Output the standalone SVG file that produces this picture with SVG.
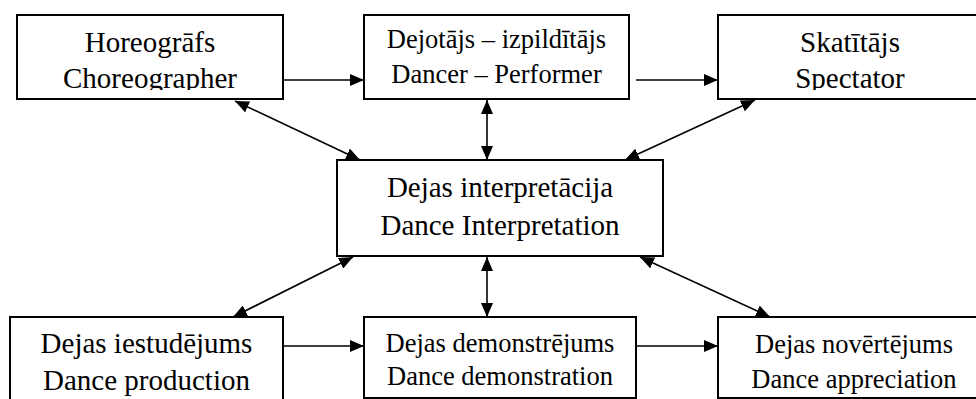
<svg xmlns="http://www.w3.org/2000/svg" width="976" height="399" viewBox="0 0 976 399">
<style>
.box{fill:#fff;stroke:#000;stroke-width:2}
.t{font-family:'Liberation Serif','DejaVu Serif',serif;text-anchor:middle;fill:#000}
.big{font-size:29px}
.small{font-size:26.5px}
.c{stroke:#000;stroke-width:1.6;fill:none}
</style>
<defs>
<marker id="ah" viewBox="0 0 14 12" refX="14" refY="6" markerWidth="14" markerHeight="12" markerUnits="userSpaceOnUse" orient="auto-start-reverse">
<path d="M0,0 L14,6 L0,12 z" fill="#000"/>
</marker>
<clipPath id="clipTop"><rect x="0" y="0" width="976" height="90"/></clipPath>
</defs>
<rect width="976" height="399" fill="#fff"/>
<g id="connectors">
<line class="c" x1="283" y1="80" x2="364" y2="80" marker-end="url(#ah)"/>
<line class="c" x1="636" y1="80" x2="718" y2="80" marker-end="url(#ah)"/>
<line class="c" x1="283" y1="346" x2="364" y2="346" marker-end="url(#ah)"/>
<line class="c" x1="636" y1="346" x2="718" y2="346" marker-end="url(#ah)"/>
<line class="c" x1="235" y1="101" x2="360" y2="160" marker-start="url(#ah)" marker-end="url(#ah)"/>
<line class="c" x1="487" y1="100" x2="487" y2="160" marker-start="url(#ah)" marker-end="url(#ah)"/>
<line class="c" x1="755" y1="100" x2="625" y2="160" marker-start="url(#ah)" marker-end="url(#ah)"/>
<line class="c" x1="353" y1="257" x2="233" y2="317" marker-start="url(#ah)" marker-end="url(#ah)"/>
<line class="c" x1="487" y1="257" x2="487" y2="317" marker-start="url(#ah)" marker-end="url(#ah)"/>
<line class="c" x1="640" y1="257" x2="770" y2="317" marker-start="url(#ah)" marker-end="url(#ah)"/>
</g>
<g id="choreographer">
<rect class="box" x="17" y="15" width="266" height="84"/>
<g clip-path="url(#clipTop)">
<text class="t big" x="150" y="52">Horeogrāfs</text>
<text class="t big" x="150" y="88">Choreographer</text>
</g>
</g>
<g id="dancer">
<rect class="box" x="364" y="15" width="265" height="84"/>
<text class="t small" x="496.5" y="48">Dejotājs – izpildītājs</text>
<text class="t small" x="496.5" y="83">Dancer – Performer</text>
</g>
<g id="spectator">
<rect class="box" x="718" y="15" width="264" height="84"/>
<g clip-path="url(#clipTop)">
<text class="t big" x="850" y="52">Skatītājs</text>
<text class="t big" x="850" y="88">Spectator</text>
</g>
</g>
<g id="interpretation">
<rect class="box" x="337" y="160" width="326" height="96"/>
<text class="t big" x="500" y="197">Dejas interpretācija</text>
<text class="t big" x="500" y="235">Dance Interpretation</text>
</g>
<g id="production">
<rect class="box" x="10" y="317" width="273" height="90"/>
<text class="t big" x="146.5" y="353">Dejas iestudējums</text>
<text class="t big" x="146.5" y="390">Dance production</text>
</g>
<g id="demonstration">
<rect class="box" x="364" y="317" width="272" height="81"/>
<text class="t small" x="500" y="352">Dejas demonstrējums</text>
<text class="t small" x="500" y="385">Dance demonstration</text>
</g>
<g id="appreciation">
<rect class="box" x="718" y="317" width="272" height="81"/>
<text class="t small" x="854" y="353">Dejas novērtējums</text>
<text class="t small" x="854" y="388">Dance appreciation</text>
</g>
</svg>
